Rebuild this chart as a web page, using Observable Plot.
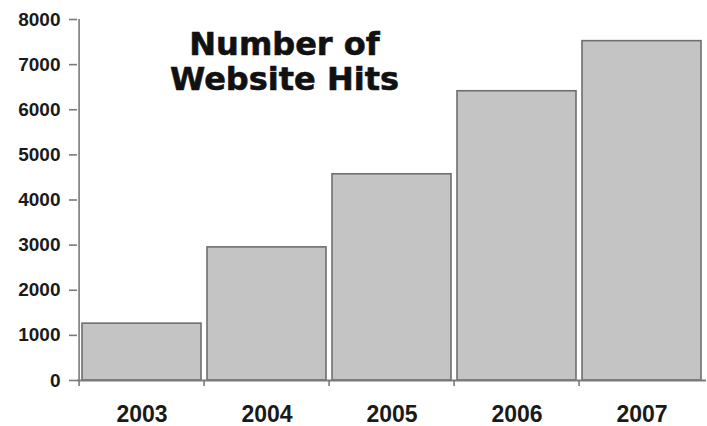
<!DOCTYPE html>
<html>
<head>
<meta charset="utf-8">
<script src="https://cdn.jsdelivr.net/npm/d3@7"></script>
<script src="https://cdn.jsdelivr.net/npm/@observablehq/plot@0.6"></script>
<style>
  html, body { margin: 0; padding: 0; background: #fff; }
  #chart { width: 707px; height: 426px; }
</style>
</head>
<body>
<div id="chart"></div>
<script>
const years = ["2003", "2004", "2005", "2006", "2007"];
const hits = [1260, 2950, 4570, 6410, 7520];
const yTicks = [0, 1000, 2000, 3000, 4000, 5000, 6000, 7000, 8000];
const titleLines = ["Number of", "Website Hits"];

const data = years.map((year, i) => ({year, hits: hits[i]}));

const W = 707, H = 426;
const mL = 77, mR = 1, mT = 19, mB = 46;
const step = (W - mL - mR) / years.length;

const chart = Plot.plot({
  width: W,
  height: H,
  marginLeft: mL,
  marginRight: mR,
  marginTop: mT,
  marginBottom: mB,
  style: {background: "#fff", overflow: "visible"},
  x: {domain: years, paddingInner: 0.05, paddingOuter: 0.025, axis: null},
  y: {domain: [0, 8000], axis: null},
  marks: [
    Plot.barY(data, {x: "year", y: "hits", fill: "#c4c4c4", stroke: "#6f6f6f", strokeWidth: 1.6}),
    Plot.ruleY([0], {stroke: "#7a7a7a", strokeWidth: 2}),
    Plot.ruleX([years[0]], {dx: -step / 2, stroke: "#7a7a7a", strokeWidth: 1.6}),
    Plot.axisY({
      ticks: yTicks, tickSize: 8, tickPadding: 9, tickFormat: d3.format("d"),
      stroke: "#7a7a7a", strokeWidth: 1.6, fill: "#1a1a1a",
      fontSize: 19, fontWeight: "bold", fontFamily: "Liberation Sans, Arial, sans-serif",
      label: null
    }),
    Plot.axisX({
      tickSize: 6, dx: -step / 2, tickFormat: () => "",
      stroke: "#7a7a7a", strokeWidth: 1.6, label: null
    }),
    Plot.axisX({
      tickSize: 0, tickPadding: 25, fill: "#1a1a1a",
      fontSize: 23, fontWeight: "bold", fontFamily: "Liberation Sans, Arial, sans-serif",
      label: null
    }),
    Plot.text([titleLines.join("\n")], {
      frameAnchor: "top-left", dx: 207, dy: 10, lineAnchor: "top", textAnchor: "middle",
      lineHeight: 1.1, fontSize: 32, fontWeight: "bold",
      fontFamily: "DejaVu Sans, sans-serif", fill: "#111", stroke: "#111", strokeWidth: 0.6,
      letterSpacing: 1
    })
  ]
});
document.getElementById("chart").append(chart);
</script>
</body>
</html>
